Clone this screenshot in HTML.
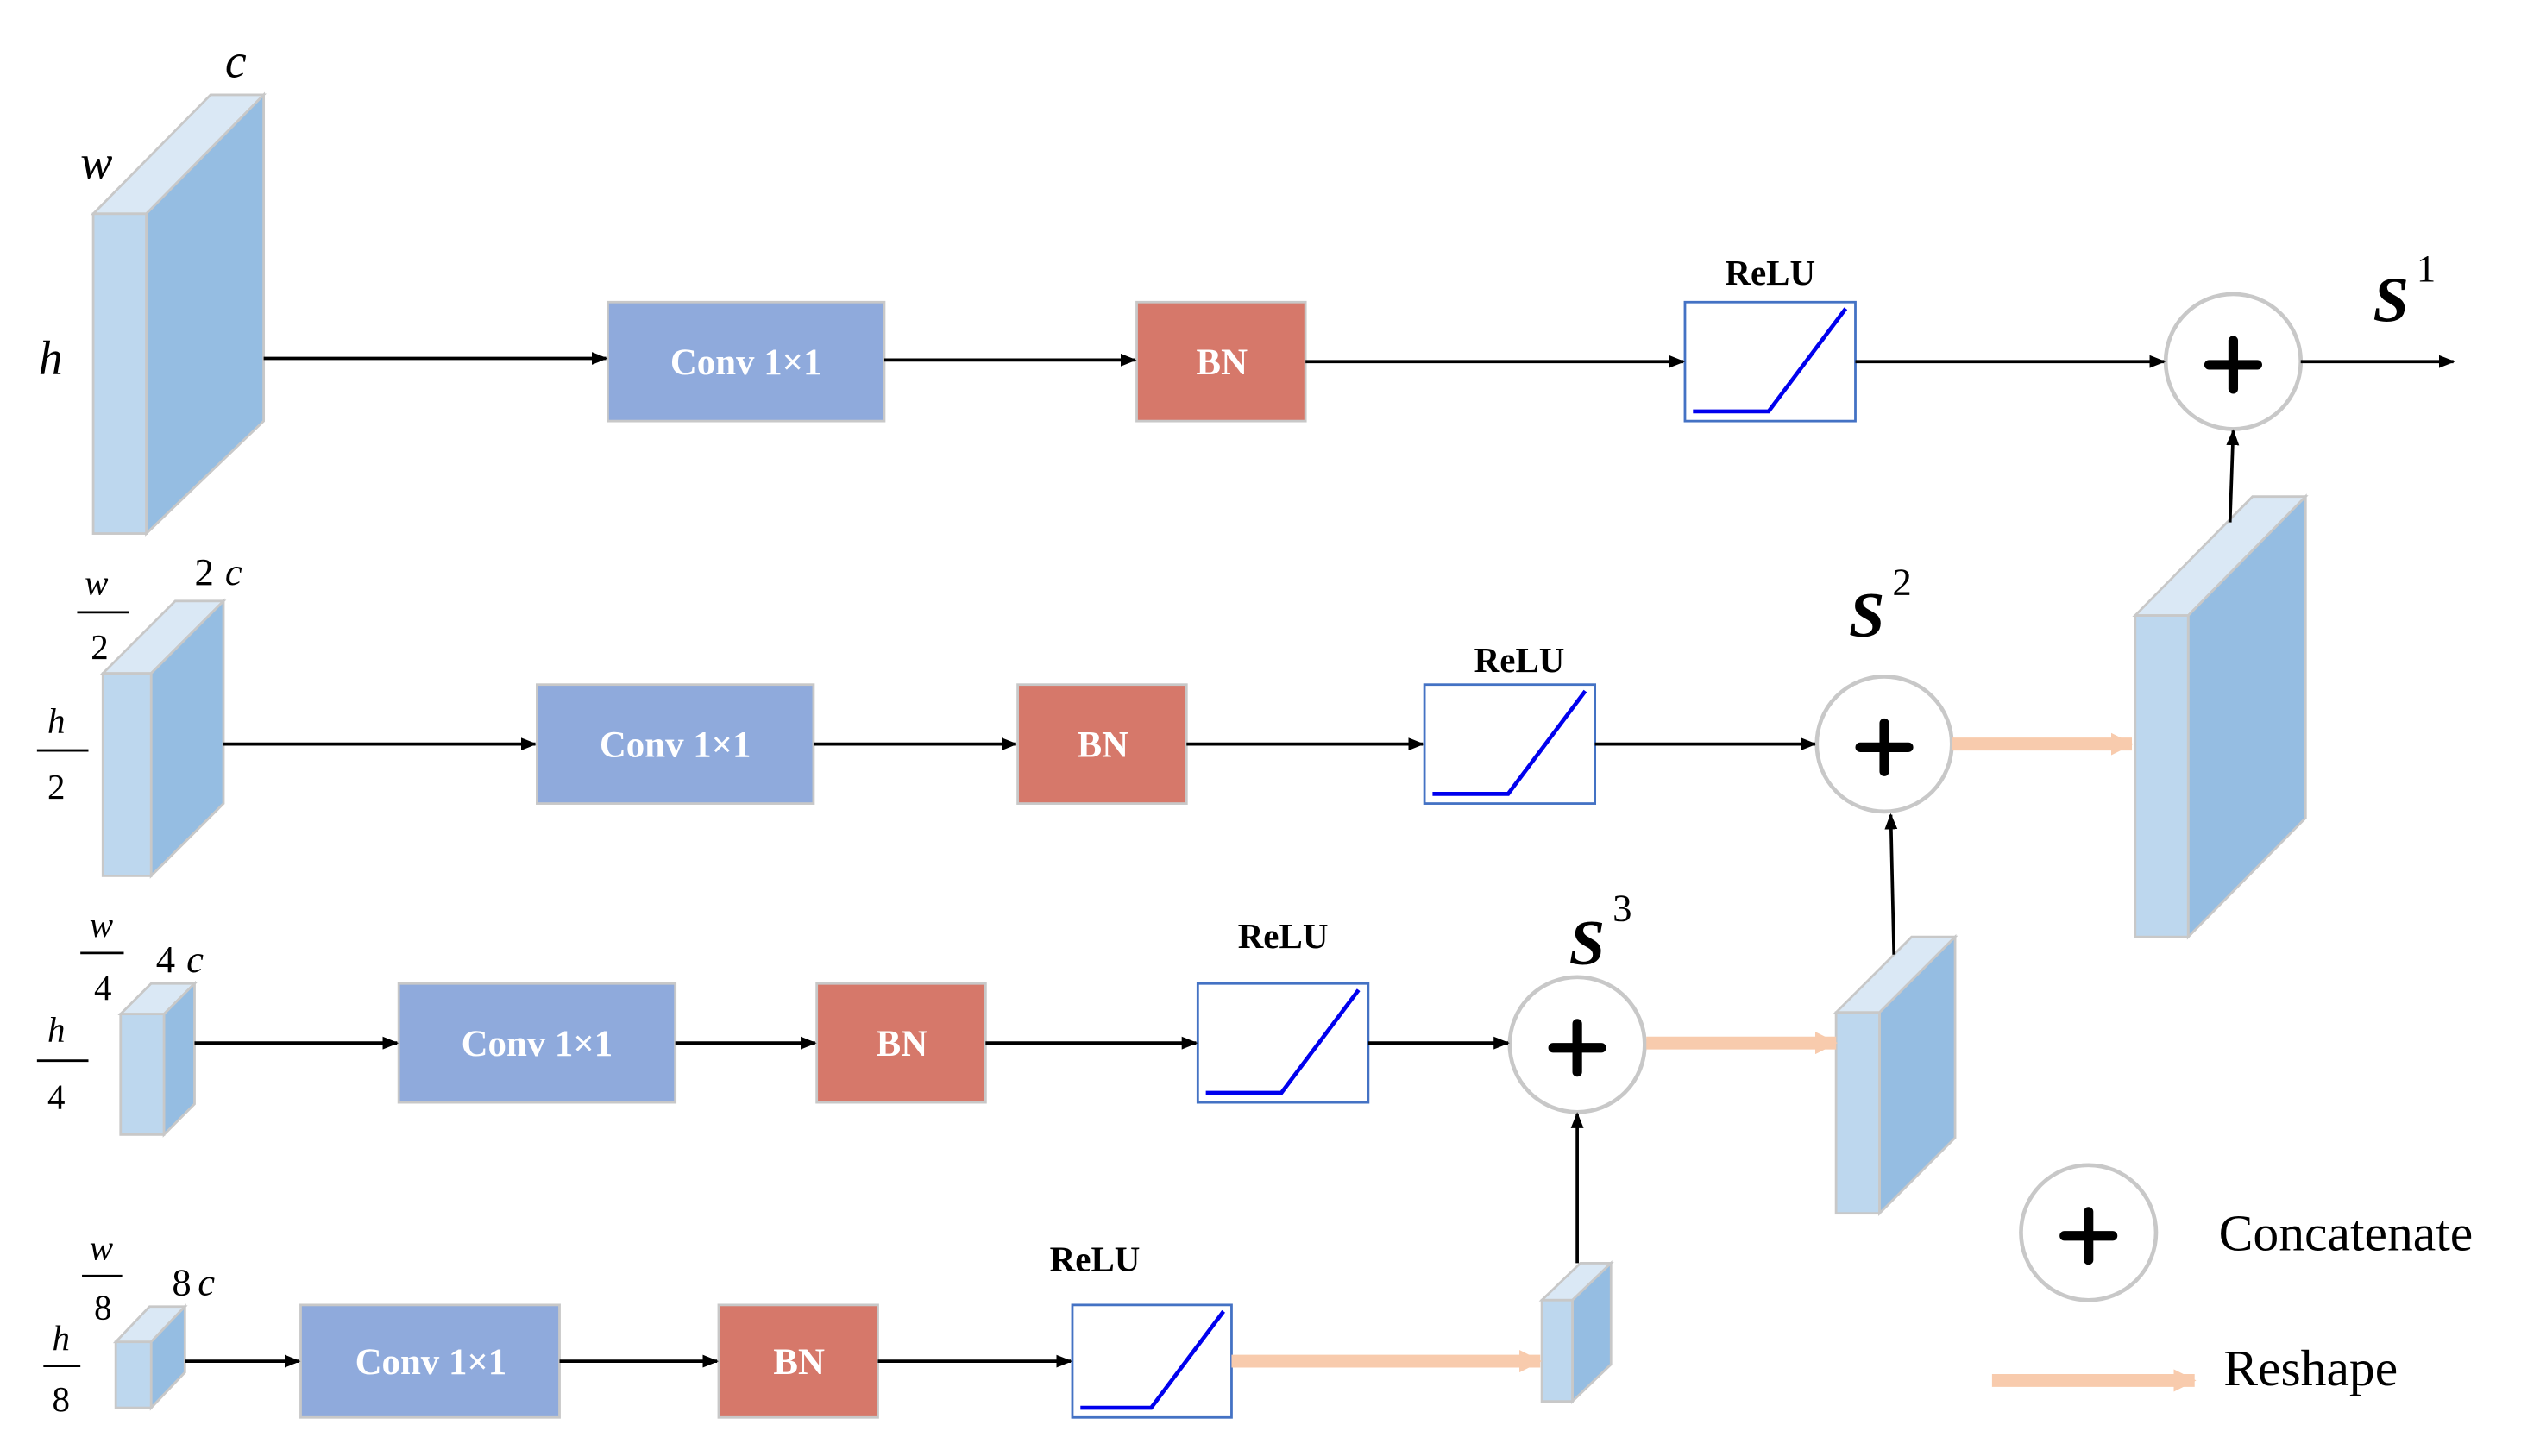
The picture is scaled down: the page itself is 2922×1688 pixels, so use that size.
<!DOCTYPE html>
<html><head><meta charset="utf-8"><style>html,body{margin:0;padding:0;background:#fff}svg{display:block}</style></head><body>
<svg width="2922" height="1688" viewBox="0 0 1568 906" preserveAspectRatio="none" xmlns="http://www.w3.org/2000/svg" font-family="Liberation Serif, serif">
<defs>
<marker id="a" markerWidth="10" markerHeight="8" refX="9" refY="4" orient="auto" markerUnits="userSpaceOnUse"><path d="M0,0L10,4L0,8z" fill="#000"/></marker>
<marker id="p" markerWidth="14" markerHeight="14" refX="13" refY="7" orient="auto" markerUnits="userSpaceOnUse"><path d="M0,0L14,7L0,14z" fill="#f8cbad"/></marker>
</defs>
<g stroke="#c8c8c8" stroke-width="1.5">
<polygon points="58,133 91,133 164,59 131,59" fill="#dae8f5"/><polygon points="91,133 164,59 164,262 91,332" fill="#95bde2"/><rect x="58" y="133" width="33" height="199" fill="#bdd7ee"/>
<polygon points="64,419 94,419 139,374 109,374" fill="#dae8f5"/><polygon points="94,419 139,374 139,500 94,545" fill="#95bde2"/><rect x="64" y="419" width="30" height="126" fill="#bdd7ee"/>
<polygon points="75,631 102,631 121,612 94,612" fill="#dae8f5"/><polygon points="102,631 121,612 121,687 102,706" fill="#95bde2"/><rect x="75" y="631" width="27" height="75" fill="#bdd7ee"/>
<polygon points="72,835 94,835 115,813 93,813" fill="#dae8f5"/><polygon points="94,835 115,813 115,854 94,876" fill="#95bde2"/><rect x="72" y="835" width="22" height="41" fill="#bdd7ee"/>
<polygon points="959,809 978,809 1002,786 983,786" fill="#dae8f5"/><polygon points="978,809 1002,786 1002,849 978,872" fill="#95bde2"/><rect x="959" y="809" width="19" height="63" fill="#bdd7ee"/>
<polygon points="1142,630 1169,630 1216,583 1189,583" fill="#dae8f5"/><polygon points="1169,630 1216,583 1216,708 1169,755" fill="#95bde2"/><rect x="1142" y="630" width="27" height="125" fill="#bdd7ee"/>
<polygon points="1328,383 1361,383 1434,309 1401,309" fill="#dae8f5"/><polygon points="1361,383 1434,309 1434,509 1361,583" fill="#95bde2"/><rect x="1328" y="383" width="33" height="200" fill="#bdd7ee"/>
<rect x="378" y="188" width="172" height="74" fill="#8faadc"/><rect x="707" y="188" width="105" height="74" fill="#d6786a"/>
<rect x="334" y="426" width="172" height="74" fill="#8faadc"/><rect x="633" y="426" width="105" height="74" fill="#d6786a"/>
<rect x="248" y="612" width="172" height="74" fill="#8faadc"/><rect x="508" y="612" width="105" height="74" fill="#d6786a"/>
<rect x="187" y="812" width="161" height="70" fill="#8faadc"/><rect x="447" y="812" width="99" height="70" fill="#d6786a"/>
<circle cx="1389" cy="225" r="42" fill="#fff" stroke-width="2.5"/>
<circle cx="1172" cy="463" r="42" fill="#fff" stroke-width="2.5"/>
<circle cx="981" cy="650" r="42" fill="#fff" stroke-width="2.5"/>
<circle cx="1299" cy="767" r="42" fill="#fff" stroke-width="2.5"/>
</g>
<g fill="#fff" stroke="#4472c4" stroke-width="1.5">
<rect x="1048" y="188" width="106" height="74"/><rect x="886" y="426" width="106" height="74"/><rect x="745" y="612" width="106" height="74"/><rect x="667" y="812" width="99" height="70"/>
</g>
<g fill="none" stroke="#0000ee" stroke-width="2.5">
<path d="M1053,256H1100L1148,192"/><path d="M891,494H938L986,430"/><path d="M750,680H797L845,616"/><path d="M672,876H716L761,816"/>
</g>
<g stroke="#000" stroke-width="6" stroke-linecap="round">
<path d="M1374,227H1404M1389,212V242"/><path d="M1157,465H1187M1172,450V480"/><path d="M966,652H996M981,637V667"/><path d="M1284,769H1314M1299,754V784"/>
</g>
<g stroke="#000" stroke-width="2" fill="none" marker-end="url(#a)">
<path d="M164,223H377"/><path d="M550,224H706"/><path d="M812,225H1047"/><path d="M1154,225H1346"/><path d="M1431,225H1526"/>
<path d="M139,463H333"/><path d="M506,463H632"/><path d="M738,463H885"/><path d="M992,463H1129"/>
<path d="M121,649H247"/><path d="M420,649H507"/><path d="M613,649H744"/><path d="M851,649H938"/>
<path d="M115,847H186"/><path d="M348,847H446"/><path d="M546,847H666"/>
<path d="M981,786V693"/><path d="M1178,594L1176,507"/><path d="M1387,325L1389,268"/>
</g>
<g stroke="#f8cbad" stroke-width="8" fill="none" marker-end="url(#p)">
<path d="M766,847H958"/><path d="M1024,649H1142"/><path d="M1214,463H1326"/><path d="M1239,859H1365"/>
</g>
<g font-weight="bold" font-size="23" fill="#fff" text-anchor="middle">
<text x="464" y="233">Conv 1×1</text><text x="760" y="233">BN</text>
<text x="420" y="471">Conv 1×1</text><text x="686" y="471">BN</text>
<text x="334" y="657">Conv 1×1</text><text x="561" y="657">BN</text>
<text x="268" y="855">Conv 1×1</text><text x="497" y="855">BN</text>
</g>
<g font-weight="bold" font-size="22" fill="#000" text-anchor="middle">
<text x="1101" y="177">ReLU</text><text x="945" y="418">ReLU</text><text x="798" y="590">ReLU</text><text x="681" y="791">ReLU</text>
</g>
<g font-size="30" font-style="italic" fill="#000">
<text x="140" y="48">c</text><text x="50" y="111">w</text><text x="24" y="233">h</text>
<text x="1476" y="200" font-size="40" font-weight="bold">S</text><text x="1503" y="175" font-style="normal" font-size="24">1</text>
<text x="1150" y="396" font-size="40" font-weight="bold">S</text><text x="1177" y="370" font-style="normal" font-size="24">2</text>
<text x="976" y="600" font-size="40" font-weight="bold">S</text><text x="1003" y="573" font-style="normal" font-size="24">3</text>
</g>
<g font-size="24" fill="#000">
<text x="121" y="364">2</text><text x="140" y="364" font-style="italic">c</text>
<text x="97" y="605">4</text><text x="116" y="605" font-style="italic">c</text>
<text x="107" y="806">8</text><text x="123" y="806" font-style="italic">c</text>
</g>
<g font-size="22" fill="#000" text-anchor="middle">
<text x="60" y="370" font-style="italic">w</text><path d="M48,381H80" stroke="#000" stroke-width="1.5"/><text x="62" y="410">2</text>
<text x="35" y="456" font-style="italic">h</text><path d="M23,467H55" stroke="#000" stroke-width="1.5"/><text x="35" y="497">2</text>
<text x="63" y="583" font-style="italic">w</text><path d="M50,593H77" stroke="#000" stroke-width="1.5"/><text x="64" y="622">4</text>
<text x="35" y="648" font-style="italic">h</text><path d="M23,660H55" stroke="#000" stroke-width="1.5"/><text x="35" y="690">4</text>
<text x="63" y="784" font-style="italic">w</text><path d="M51,794H76" stroke="#000" stroke-width="1.5"/><text x="64" y="821">8</text>
<text x="38" y="840" font-style="italic">h</text><path d="M27,850H50" stroke="#000" stroke-width="1.5"/><text x="38" y="878">8</text>
</g>
<text x="1380" y="778" font-size="32">Concatenate</text>
<text x="1383" y="862" font-size="32">Reshape</text>
</svg>
</body></html>
